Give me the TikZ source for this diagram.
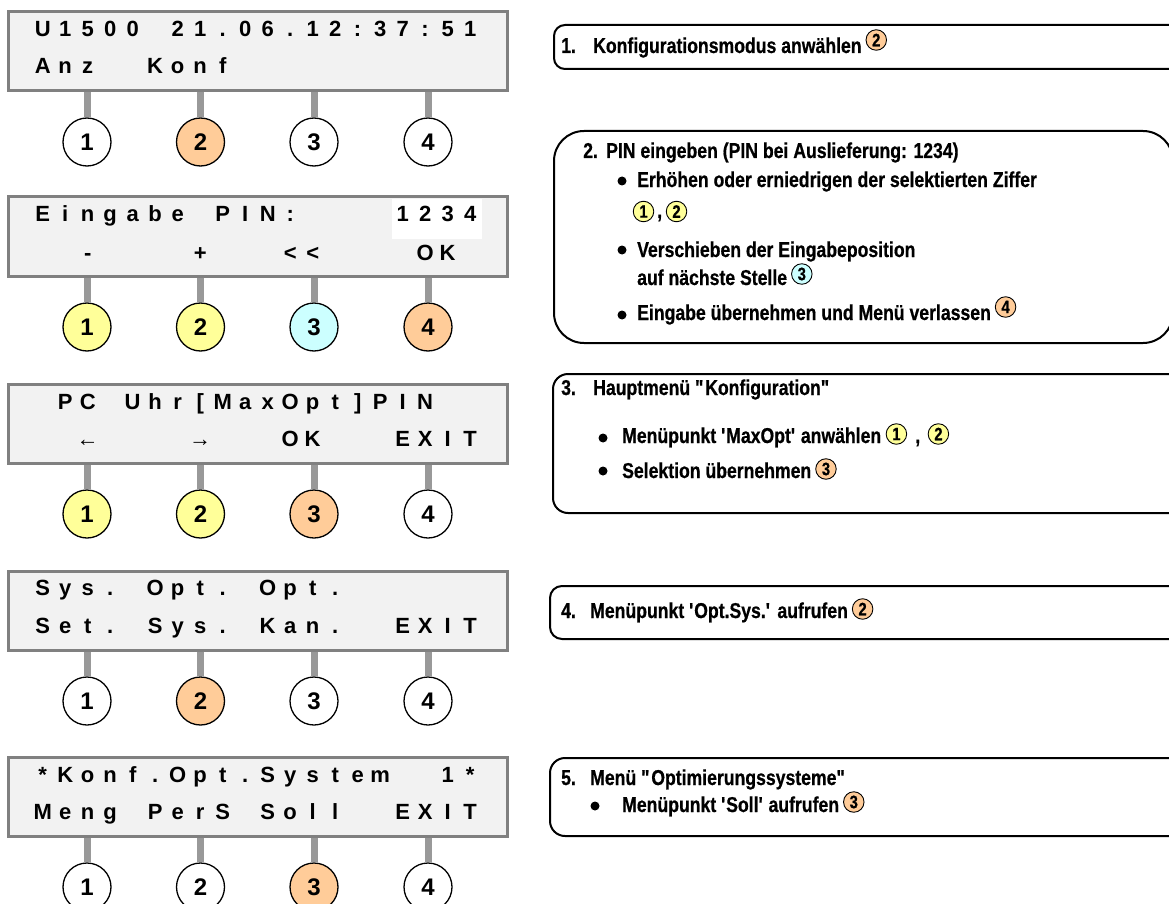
\documentclass[tikz,border=0pt]{standalone}
\usepackage{fontspec}
\setmainfont{Liberation Sans}
\newfontfamily\narrowfont[FakeStretch=0.82,BoldFeatures={FakeBold=0.6}]{Liberation Sans}
\definecolor{lcdfill}{HTML}{F2F2F2}
\definecolor{lcdborder}{HTML}{808080}
\definecolor{stemgray}{HTML}{999999}
\definecolor{cOr}{HTML}{FFCC99}
\definecolor{cYe}{HTML}{FFFF99}
\definecolor{cCy}{HTML}{CCFFFF}
\newcommand\lcdfont{\fontsize{22}{26}\selectfont\bfseries}
\newcommand\txtfont{\narrowfont\fontsize{21.5}{25}\selectfont\bfseries}
\newcommand\minifont{\narrowfont\fontsize{18}{20}\selectfont\bfseries}
\newcommand\keyfont{\fontsize{24}{28}\selectfont\bfseries}
\newlength\lcdpitch \setlength\lcdpitch{22.5pt}
\newcommand\lcdrow[1]{\lcdloop#1\relax}
\def\lcdloop#1{\ifx#1\relax\else\makebox[\lcdpitch][c]{#1}\expandafter\lcdloop\fi}
\newcommand\keys[6]{%
  \foreach \k/\x/\c in {1/87/#3, 2/200.5/#4, 3/314/#5, 4/428/#6} {
    \node[key, fill=\c] (#1k\k) at (\x, #2+130) {\k};
    \draw[stem] ([yshift=-1.5pt]#1k\k.north |- #1.south) -- (#1k\k.north);
  }}
\begin{document}
\begin{tikzpicture}[x=1pt,y=-1pt,
  lcdbox/.style={draw=lcdborder, line width=3pt, fill=lcdfill, minimum width=499pt, minimum height=79pt, anchor=north west, inner sep=0pt, outer sep=0pt},
  lcdtext/.style={anchor=base west, inner sep=0pt, font=\lcdfont},
  key/.style={circle, draw=black, line width=1.3pt, minimum size=48pt, inner sep=0pt, font=\keyfont},
  stem/.style={draw=stemgray, line width=7pt},
  infobox/.style={draw=black, line width=2pt, fill=white, anchor=north west, inner sep=0pt},
  txt/.style={anchor=base west, inner sep=0pt, font=\txtfont},
  mini/.style={circle, draw=black, line width=0.9pt, minimum size=20.5pt, inner sep=0pt, font=\minifont},
  bul/.style={circle, fill=black, minimum size=9pt, inner sep=0pt},
  hilite/.style={fill=white, inner sep=0pt, anchor=north west, minimum width=90pt, minimum height=40pt}
]
\useasboundingbox (0,0) rectangle (1169,904);
\clip (0,0) rectangle (1169,904);
\fill[white] (0,0) rectangle (1169,904);

% ---------- panel 1
\node[lcdbox] (p1) at (8.5,12) {};
\node[lcdtext] (p1r1) at (31.25,37) {\lcdrow{U1500~21.06.12:37:51}};
\node[lcdtext] (p1r2) at (31.25,74) {\lcdrow{Anz~~Konf}};
\keys{p1}{12}{white}{cOr}{white}{white}

% ---------- panel 2
\node[lcdbox] (p2) at (8.5,197) {};
\node[hilite] (p2hl) at (392,198.5) {};
\node[lcdtext] (p2r1) at (31.25,222) {\lcdrow{Eingabe~PIN:~~~~1234}};
\node[lcdtext] (p2r2) at (31.25,260) {\lcdrow{~~-~~~~+~~~<<~~~~OK~}};
\keys{p2}{197}{cYe}{cYe}{cCy}{cOr}

% ---------- panel 3
\node[lcdbox] (p3) at (8.5,384) {};
\node[lcdtext] (p3r1) at (31.25,409) {\lcdrow{~PC~Uhr[MaxOpt]PIN~~}};
\node[lcdtext] (p3r2) at (31.25,446) {\lcdrow{~~←~~~~→~~~OK~~~EXIT}};
\keys{p3}{384}{cYe}{cYe}{cOr}{white}

% ---------- panel 4
\node[lcdbox] (p4) at (8.5,571) {};
\node[lcdtext] (p4r1) at (31.25,595) {\lcdrow{Sys.~Opt.~Opt.}};
\node[lcdtext] (p4r2) at (31.25,633) {\lcdrow{Set.~Sys.~Kan.~~EXIT}};
\keys{p4}{571}{white}{cOr}{white}{white}

% ---------- panel 5
\node[lcdbox] (p5) at (8.5,757) {};
\node[lcdtext] (p5r1) at (31.25,782) {\lcdrow{*Konf.Opt.System~~1*}};
\node[lcdtext] (p5r2) at (31.25,819) {\lcdrow{Meng~PerS~Soll~~EXIT}};
\keys{p5}{757}{white}{white}{cOr}{white}

% ---------- box 1
\node[infobox, rounded corners=11pt, minimum width=647pt, minimum height=44pt] (b1) at (553,24) {};
\node[txt] (b1n) at (561,53) {1.};
\node[txt] (b1t) at (593,53) {Konfigurationsmodus anwählen};
\node[mini, fill=cOr] (b1c) at ([xshift=14.5pt,yshift=13pt]b1t.base east) {2};

% ---------- box 2
\node[infobox, rounded corners=30pt, minimum width=619pt, minimum height=212pt] (b2) at (553,130) {};
\node[txt] (b2n) at (583,158) {2.};
\node[txt] (b2t) at (606,158) {PIN eingeben (PIN bei Auslieferung: 1234)};
\node[bul] (b2b1) at (622,181) {};
\node[txt] (b2t1) at (637,187) {Erhöhen oder erniedrigen der selektierten Ziffer};
\node[mini, fill=cYe] (b2c1) at (643.5,211.5) {1};
\node[txt] (b2cm) at (657,218) {,};
\node[mini, fill=cYe] (b2c2) at (676.5,211.5) {2};
\node[bul] (b2b2) at (622,250) {};
\node[txt] (b2t2) at (637,257) {Verschieben der Eingabeposition};
\node[txt] (b2t3) at (637,285) {auf nächste Stelle};
\node[mini, fill=cCy] (b2c3) at ([xshift=14.5pt,yshift=11pt]b2t3.base east) {3};
\node[bul] (b2b3) at (622,315) {};
\node[txt] (b2t4) at (637,320) {Eingabe übernehmen und Menü verlassen};
\node[mini, fill=cOr] (b2c4) at ([xshift=14.5pt,yshift=13pt]b2t4.base east) {4};

% ---------- box 3
\node[infobox, rounded corners=15pt, minimum width=648pt, minimum height=139pt] (b3) at (552,373) {};
\node[txt] (b3n) at (561,395) {3.};
\node[txt] (b3t) at (593,395) {Hauptmenü \textquotedbl Konfiguration\textquotedbl};
\node[bul] (b3b1) at (603,438) {};
\node[txt] (b3t1) at (622,443) {Menüpunkt \textquotesingle MaxOpt\textquotesingle{} anwählen};
\node[mini, fill=cYe] (b3c1) at ([xshift=15pt,yshift=9pt]b3t1.base east) {1};
\node[txt] (b3cm) at ([xshift=8pt]b3c1.east |- b3t1.base) {,};
\node[mini, fill=cYe] (b3c2) at ([xshift=18pt,yshift=9pt]b3cm.base east) {2};
\node[bul] (b3b2) at (603,471) {};
\node[txt] (b3t2) at (622,478) {Selektion übernehmen};
\node[mini, fill=cOr] (b3c3) at ([xshift=14.5pt,yshift=9pt]b3t2.base east) {3};

% ---------- box 4
\node[infobox, rounded corners=12pt, minimum width=651pt, minimum height=53pt] (b4) at (549,585) {};
\node[txt] (b4n) at (561,618) {4.};
\node[txt] (b4t) at (590,618) {Menüpunkt \textquotesingle Opt.Sys.\textquotesingle{} aufrufen};
\node[mini, fill=cOr] (b4c) at ([xshift=14.5pt,yshift=9pt]b4t.base east) {2};

% ---------- box 5
\node[infobox, rounded corners=15pt, minimum width=651pt, minimum height=78pt] (b5) at (549,757) {};
\node[txt] (b5n) at (561,785) {5.};
\node[txt] (b5t) at (590,785) {Menü \textquotedbl Optimierungssysteme\textquotedbl};
\node[bul] (b5b) at (595,806) {};
\node[txt] (b5t1) at (622,812) {Menüpunkt \textquotesingle Soll\textquotesingle{} aufrufen};
\node[mini, fill=cOr] (b5c) at ([xshift=14.5pt,yshift=10pt]b5t1.base east) {3};
\end{tikzpicture}
\end{document}
